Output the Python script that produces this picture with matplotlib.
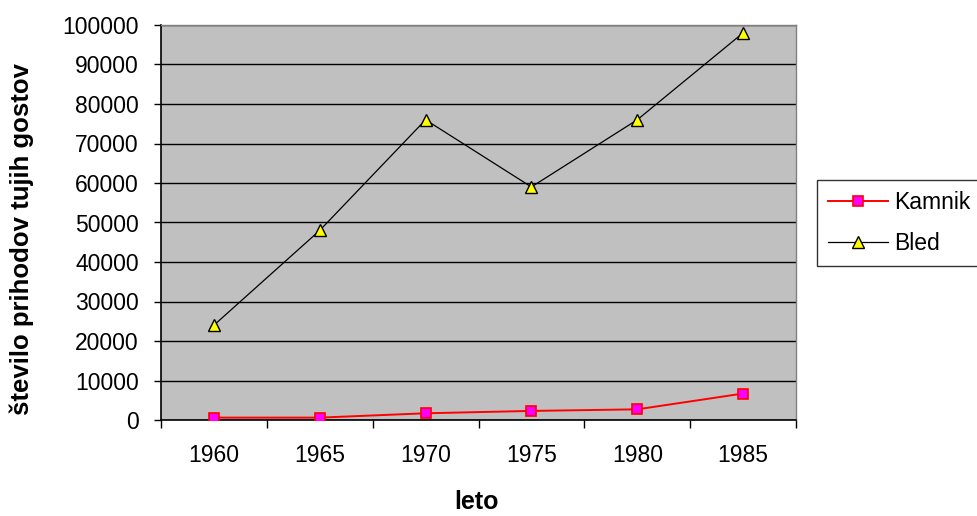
import matplotlib
matplotlib.use("Agg")
import matplotlib.pyplot as plt
from matplotlib.ticker import FixedLocator, NullFormatter

plt.rcParams['font.family'] = ['Liberation Sans', 'DejaVu Sans']

years = ["1960", "1965", "1970", "1975", "1980", "1985"]
kamnik = [600, 600, 1700, 2300, 2700, 6700]
bled = [24000, 48000, 76000, 59000, 76000, 98000]

W, H = 977, 516
fig = plt.figure(figsize=(W / 100, H / 100), dpi=100)
# plot area in pixel terms: left 161, right 796, top 25, bottom 420
ax = fig.add_axes([161 / W, 1 - 420 / H, (796 - 161) / W, (420 - 25) / H])
ax.set_facecolor('#C0C0C0')

x = list(range(len(years)))
ax.plot(x, kamnik, color='#FF0000', lw=1.4, marker='s', markersize=7,
        markerfacecolor='#FF00FF', markeredgecolor='#FF0000', markeredgewidth=1.2,
        label='Kamnik', zorder=3)
ax.plot(x, bled, color='black', lw=0.9, marker='^', markersize=8.5,
        markerfacecolor='#FFFF00', markeredgecolor='black', markeredgewidth=1.0,
        label='Bled', zorder=3)

ax.set_xlim(-0.5, len(years) - 0.5)
ax.set_ylim(0, 100000)
ax.set_yticks(range(0, 100001, 10000))
ax.set_yticklabels([str(v) for v in range(0, 100001, 10000)], fontsize=16.5)
ax.yaxis.grid(True, color='black', lw=1.0)
ax.set_axisbelow(True)

ax.set_xticks(x)
ax.set_xticklabels(years, fontsize=16.5)
ax.tick_params(axis='x', which='major', length=0, pad=17)
ax.xaxis.set_minor_locator(FixedLocator([i - 0.5 for i in range(len(years) + 1)]))
ax.xaxis.set_minor_formatter(NullFormatter())
ax.tick_params(axis='x', which='minor', length=5.5, width=1, direction='out')
ax.tick_params(axis='y', length=5, width=1, direction='out', pad=11)

for s in ['top', 'right']:
    ax.spines[s].set_color('#808080')
    ax.spines[s].set_linewidth(1)
for s in ['left', 'bottom']:
    ax.spines[s].set_color('black')
    ax.spines[s].set_linewidth(1.2)

ax.set_xlabel('leto', fontsize=18, fontweight='bold')
ax.xaxis.label.set_va('center')
ax.xaxis.set_label_coords((477 - 161) / 635, (420 - 502) / 395)
ax.set_ylabel('število prihodov tujih gostov', fontsize=18.5, fontweight='bold')
ax.yaxis.label.set_va('center')
ax.yaxis.set_label_coords((22 - 161) / 635, (420 - 239) / 395)

leg = fig.legend(loc='upper left', bbox_to_anchor=(817 / W, 1 - 180 / H), fontsize=16.5,
                 frameon=True, fancybox=False, edgecolor='black', handlelength=2.6,
                 borderpad=0.5, labelspacing=0.75, handletextpad=0.25, borderaxespad=0)
leg.get_frame().set_linewidth(1.0)

fig.savefig('out.png', dpi=100, facecolor='white')
